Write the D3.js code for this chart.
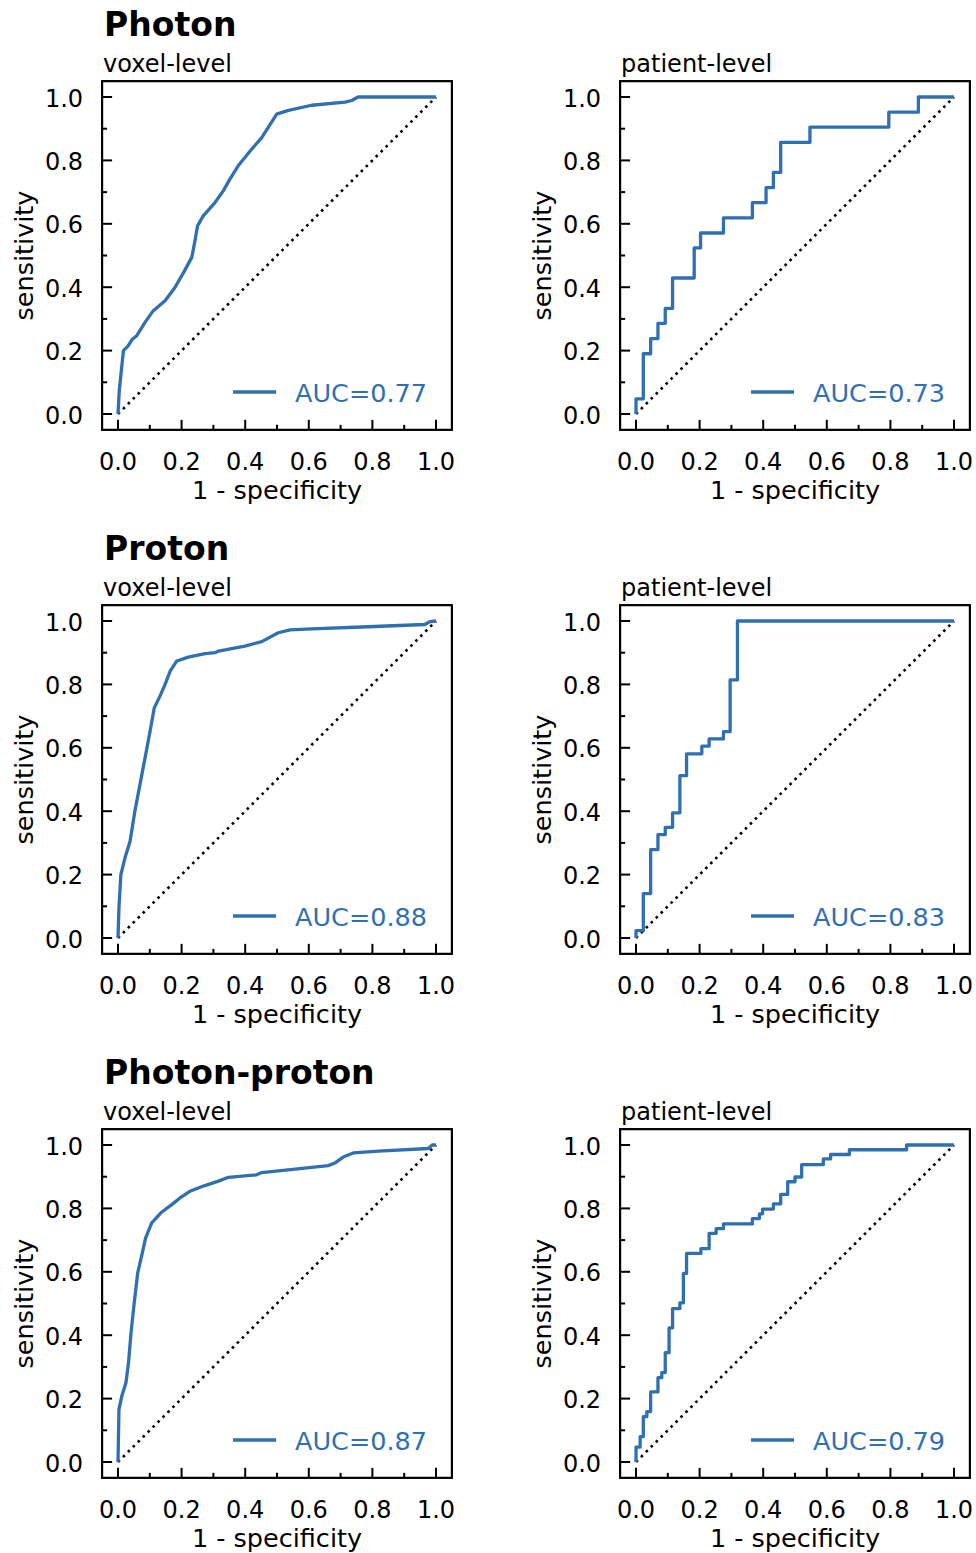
<!DOCTYPE html>
<html>
<head>
<meta charset="utf-8">
<script src="https://cdn.jsdelivr.net/npm/d3@7"></script>
<style>
  body { margin: 0; background: #fff; }
  text { font-family: "DejaVu Sans", sans-serif; }
</style>
</head>
<body>
<script>
// ROC-Kurven: drei Bestrahlungsarten, jeweils voxel- und patientenbasiert

const groups = ['Photon', 'Proton', 'Photon-proton'];
const levels = ['voxel-level', 'patient-level'];
const aucs = [[0.77, 0.73], [0.88, 0.83], [0.87, 0.79]];

const xTicks = [0, 0.2, 0.4, 0.6, 0.8, 1.0];
const yTicks = [0, 0.2, 0.4, 0.6, 0.8, 1.0];

// voxel-level (glatte Kurven)
const photonVoxFpr = [0, 0.004, 0.017, 0.032, 0.045, 0.059, 0.085, 0.111, 0.148, 0.179, 0.206, 0.232, 0.242, 0.250, 0.268, 0.305, 0.331, 0.352, 0.378, 0.420, 0.452, 0.499, 0.536, 0.609, 0.714, 0.735, 0.755, 1.0];
const photonVoxTpr = [0, 0.074, 0.200, 0.215, 0.236, 0.247, 0.289, 0.326, 0.357, 0.399, 0.446, 0.494, 0.546, 0.593, 0.625, 0.667, 0.704, 0.741, 0.783, 0.835, 0.872, 0.946, 0.958, 0.974, 0.984, 0.989, 1.0, 1.0];

const protonVoxFpr = [0, 0.003, 0.009, 0.022, 0.038, 0.053, 0.069, 0.085, 0.101, 0.114, 0.132, 0.148, 0.164, 0.185, 0.221, 0.274, 0.305, 0.316, 0.399, 0.452, 0.504, 0.541, 0.609, 0.766, 0.965, 0.981, 1.0];
const protonVoxTpr = [0, 0.095, 0.200, 0.253, 0.305, 0.400, 0.484, 0.568, 0.653, 0.726, 0.763, 0.800, 0.842, 0.874, 0.886, 0.897, 0.900, 0.905, 0.921, 0.935, 0.963, 0.972, 0.975, 0.981, 0.989, 0.998, 1.0];

const mixedVoxFpr = [0, 0.003, 0.012, 0.025, 0.033, 0.041, 0.051, 0.062, 0.074, 0.087, 0.106, 0.137, 0.169, 0.195, 0.226, 0.273, 0.316, 0.347, 0.436, 0.452, 0.557, 0.661, 0.682, 0.708, 0.740, 0.819, 0.976, 0.988, 1.0];
const mixedVoxTpr = [0, 0.166, 0.208, 0.250, 0.313, 0.408, 0.502, 0.597, 0.649, 0.707, 0.754, 0.788, 0.812, 0.833, 0.854, 0.872, 0.886, 0.898, 0.906, 0.913, 0.924, 0.935, 0.943, 0.962, 0.975, 0.981, 0.989, 1.0, 1.0];

// patient-level (Treppen): bei fpr[i] steigt die Kurve auf tpr[i]
const photonPatFpr = [0, 0.023, 0.046, 0.069, 0.092, 0.115, 0.183, 0.203, 0.275, 0.366, 0.409, 0.432, 0.455, 0.547, 0.795, 0.888, 1.0];
const photonPatTpr = [0.048, 0.190, 0.238, 0.286, 0.333, 0.429, 0.524, 0.571, 0.619, 0.667, 0.714, 0.762, 0.857, 0.905, 0.952, 1.0, 1.0];

const protonPatFpr = [0, 0.023, 0.046, 0.069, 0.092, 0.115, 0.138, 0.159, 0.207, 0.230, 0.275, 0.296, 0.319, 1.0];
const protonPatTpr = [0.023, 0.140, 0.279, 0.326, 0.349, 0.395, 0.512, 0.581, 0.605, 0.628, 0.651, 0.814, 1.0, 1.0];

const mixedPatFpr = [0, 0.013, 0.023, 0.034, 0.046, 0.069, 0.081, 0.092, 0.104, 0.115, 0.138, 0.149, 0.159, 0.204, 0.230, 0.252, 0.275, 0.366, 0.388, 0.398, 0.432, 0.455, 0.477, 0.500, 0.521, 0.589, 0.612, 0.671, 0.851, 1.0];
const mixedPatTpr = [0.047, 0.080, 0.143, 0.159, 0.221, 0.266, 0.282, 0.345, 0.423, 0.484, 0.502, 0.595, 0.658, 0.673, 0.721, 0.736, 0.751, 0.768, 0.783, 0.798, 0.814, 0.844, 0.884, 0.899, 0.938, 0.956, 0.970, 0.985, 1.0, 1.0];

const curves = [
    [[photonVoxFpr, photonVoxTpr], [photonPatFpr, photonPatTpr]],
    [[protonVoxFpr, protonVoxTpr], [protonPatFpr, protonPatTpr]],
    [[mixedVoxFpr, mixedVoxTpr], [mixedPatFpr, mixedPatTpr]]
];

const blue = '#3170b0';
const width = 976, height = 1553;
const colX = [118, 636];     // Pixel von x=0
const rowY = [414, 938, 1462]; // Pixel von y=0
const span = 318;

const svg = d3.select('body').append('svg')
    .attr('width', width)
    .attr('height', height);

function drawPanel(row, col) {
    const x0 = colX[col], y0 = rowY[row];
    const x = d3.scaleLinear().domain([0, 1]).range([x0, x0 + span]);
    const y = d3.scaleLinear().domain([0, 1]).range([y0, y0 - 317]);
    const g = svg.append('g').attr('class', 'panel');

    const left = x(-0.05), right = x(1.05), top = y(1.05), bottom = y(-0.05);

    // Diagonale
    g.append('line')
        .attr('x1', x(0)).attr('y1', y(0))
        .attr('x2', x(1)).attr('y2', y(1))
        .attr('stroke', '#000')
        .attr('stroke-width', 2.6)
        .attr('stroke-dasharray', '2.6 4.4');

    // Kurve
    const [fpr, tpr] = curves[row][col];
    let pts = fpr.map((f, i) => [f, tpr[i]]);
    const line = d3.line().x(d => x(d[0])).y(d => y(d[1]));
    if (col === 1) {
        pts = [[0, 0]].concat(pts);
        line.curve(d3.curveStepAfter);
    }
    g.append('path')
        .datum(pts)
        .attr('d', line)
        .attr('fill', 'none')
        .attr('stroke', blue)
        .attr('stroke-width', 3.3)
        .attr('stroke-linejoin', 'round');

    // Rahmen
    g.append('rect')
        .attr('x', left).attr('y', top)
        .attr('width', right - left).attr('height', bottom - top)
        .attr('fill', 'none')
        .attr('stroke', '#000')
        .attr('stroke-width', 2.2);

    // Ticks (nach innen)
    const minor = d3.range(0.1, 1.0, 0.2);
    g.selectAll('line.xmaj').data(xTicks).enter().append('line')
        .attr('x1', d => x(d)).attr('x2', d => x(d))
        .attr('y1', bottom).attr('y2', bottom - 10)
        .attr('stroke', '#000').attr('stroke-width', 2);
    g.selectAll('line.xmin').data(minor).enter().append('line')
        .attr('x1', d => x(d)).attr('x2', d => x(d))
        .attr('y1', bottom).attr('y2', bottom - 5)
        .attr('stroke', '#000').attr('stroke-width', 2);
    g.selectAll('line.ymaj').data(yTicks).enter().append('line')
        .attr('y1', d => y(d)).attr('y2', d => y(d))
        .attr('x1', left).attr('x2', left + 10)
        .attr('stroke', '#000').attr('stroke-width', 2);
    g.selectAll('line.ymin').data(minor).enter().append('line')
        .attr('y1', d => y(d)).attr('y2', d => y(d))
        .attr('x1', left).attr('x2', left + 5)
        .attr('stroke', '#000').attr('stroke-width', 2);

    // Tick-Beschriftung
    g.selectAll('text.xt').data(xTicks).enter().append('text')
        .attr('x', d => x(d)).attr('y', bottom + 40)
        .attr('text-anchor', 'middle')
        .attr('font-size', 24)
        .text(d => d.toFixed(1));
    g.selectAll('text.yt').data(yTicks).enter().append('text')
        .attr('x', left - 19).attr('y', d => y(d) + 9.5)
        .attr('text-anchor', 'end')
        .attr('font-size', 24)
        .text(d => d.toFixed(1));

    // Achsentitel
    g.append('text')
        .attr('x', x(0.5)).attr('y', bottom + 69)
        .attr('text-anchor', 'middle')
        .attr('font-size', 25.5)
        .text('1 - specificity');
    g.append('text')
        .attr('transform', 'translate(' + (left - 69) + ',' + y(0.5) + ') rotate(-90)')
        .attr('text-anchor', 'middle')
        .attr('font-size', 25.5)
        .text('sensitivity');

    // Untertitel
    g.append('text')
        .attr('x', left + 1).attr('y', top - 9)
        .attr('font-size', 24)
        .text(levels[col]);

    // Legende
    const ly = y0 - 22;
    g.append('line')
        .attr('x1', x0 + 115).attr('x2', x0 + 158)
        .attr('y1', ly).attr('y2', ly)
        .attr('stroke', blue).attr('stroke-width', 3.3);
    g.append('text')
        .attr('x', x0 + 177).attr('y', ly + 9.5)
        .attr('font-size', 25.5)
        .attr('fill', blue)
        .text('AUC=' + aucs[row][col].toFixed(2));

    if (col === 0) {
        g.append('text')
            .attr('x', left + 2).attr('y', top - 45)
            .attr('font-size', 33)
            .attr('font-weight', 'bold')
            .text(groups[row]);
    }
}

groups.forEach((_g, r) => levels.forEach((_l, c) => drawPanel(r, c)));
</script>
</body>
</html>
